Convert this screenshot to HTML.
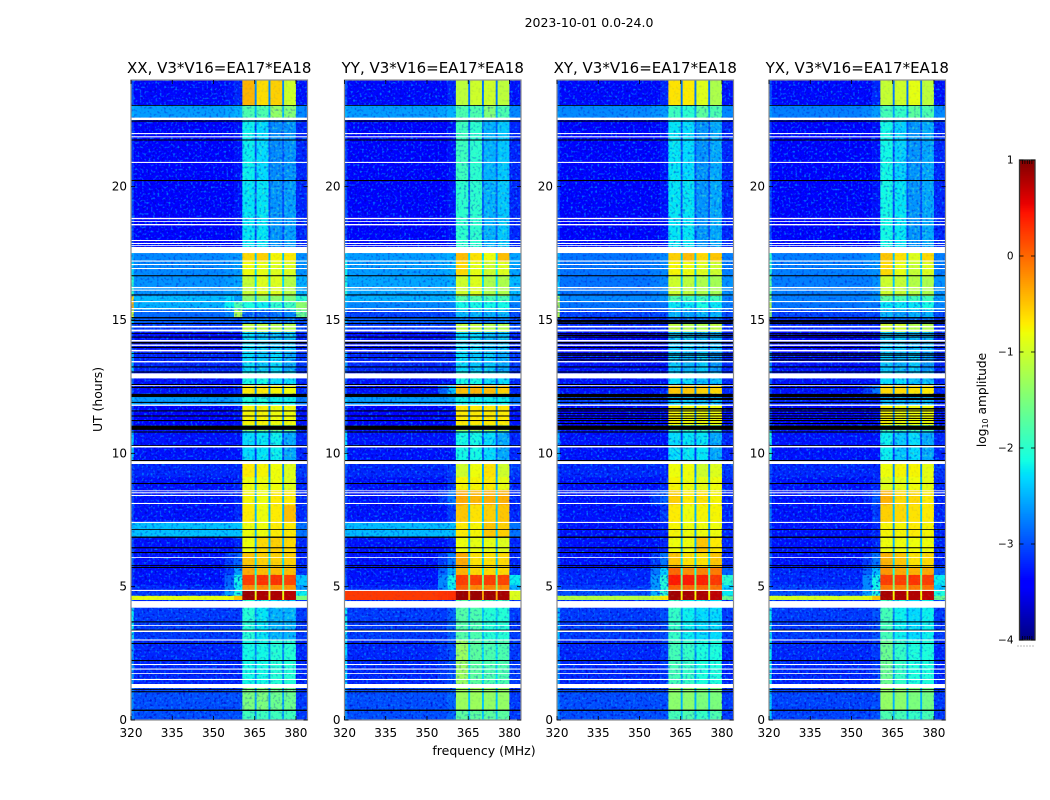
<!DOCTYPE html>
<html>
<head>
<meta charset="utf-8">
<title>Dynamic spectra 2023-10-01</title>
<style>
html,body{margin:0;padding:0;background:#fff;}
svg{display:block;}
text{font-family:"DejaVu Sans","Liberation Sans",sans-serif;fill:#000;}
</style>
</head>
<body>
<svg id="fig" xmlns="http://www.w3.org/2000/svg" width="1050" height="800" viewBox="0 0 1050 800">
<defs>
<filter id="speckDark" x="0" y="0" width="100%" height="100%" color-interpolation-filters="sRGB">
<feTurbulence type="fractalNoise" baseFrequency="0.42" numOctaves="1" seed="3"/>
<feColorMatrix type="matrix" values="0 0 0 0 0  0 0 0 0 0  0 0 0 0 0.78  3.6 0 0 0 -1.85"/>
</filter>
<filter id="speckLight" x="0" y="0" width="100%" height="100%" color-interpolation-filters="sRGB">
<feTurbulence type="fractalNoise" baseFrequency="0.45" numOctaves="1" seed="11"/>
<feColorMatrix type="matrix" values="0 0 0 0 0  0 0 0 0 0.55  0 0 0 0 1  0 3.8 0 0 -2.02"/>
</filter>
<filter id="speckGreen" x="0" y="0" width="100%" height="100%" color-interpolation-filters="sRGB">
<feTurbulence type="fractalNoise" baseFrequency="0.4" numOctaves="1" seed="7"/>
<feColorMatrix type="matrix" values="0 0 0 0 0.35  0 0 0 0 1  0 0 0 0 0.7  0 3.8 0 0 -1.95"/>
</filter>
</defs>
<text x="589" y="27" font-size="12.5" text-anchor="middle">2023-10-01 0.0-24.0</text>
<text x="484" y="755" font-size="12.5" text-anchor="middle">frequency (MHz)</text>
<text x="102" y="399.5" font-size="12.4" text-anchor="middle" transform="rotate(-90 102 399.5)">UT (hours)</text>
<text x="986" y="400" font-size="12.2" text-anchor="middle" transform="rotate(-90 986 400)">log<tspan font-size="8" dy="2">10</tspan><tspan dy="-2"> amplitude</tspan></text>
<g id="panels"></g>
<g id="colorbar"></g>
</svg>
<script>
// ---------- chart data ----------
const panelTitles = ["XX, V3*V16=EA17*EA18","YY, V3*V16=EA17*EA18","XY, V3*V16=EA17*EA18","YX, V3*V16=EA17*EA18"];
const xTicks = [320,335,350,365,380];
const yTicks = [0,5,10,15,20];
const colorTicks = [1,0,-1,-2,-3,-4];
// frequency channel groups (MHz): edge, background, rampA, rampB, bar1, gap, bar2, gap, bar3, gap, bar4, side
const freqEdges = [320,321,354,357.5,360.5,365,365.7,370,370.7,375,375.7,380,384.2];
// time band edges (hours UT), top to bottom
const bandEdges = [24,23.06,22.58,20.25,17.74,17.55,17.18,16.69,15.9,15.68,15.38,15.08,14.89,14.55,13.8,13.05,12.56,12.23,11.81,11.06,10.84,9.68,9.11,8.63,8.06,7.43,6.86,6.3,5.7,5.44,5.06,4.85,4.66,4.5,4.2,3,1.35,0.37,0];
// log10 amplitude per band: edge,bg,rampA,rampB,bar1,bar2,bar3,bar4,gap,side
const xxLevels = [
[-3,-3.35,-3.3,-3.2,-0.4,-0.62,-0.55,-1,-2.7,-3.3],
[-2.5,-2.6,-2.55,-2.5,-1.8,-1.8,-1.35,-1.45,-2.5,-2.7],
[-3.1,-3.4,-3.4,-3.3,-2.2,-2.3,-2.7,-2.65,-2.95,-3.2],
[-3,-3.4,-3.4,-3.3,-2.25,-2.25,-2.65,-2.6,-3,-3.2],
[-3,-3.4,-3.4,-3.3,-2.25,-2.25,-2.65,-2.6,-3,-3.2],
[-2.5,-2.7,-2.65,-2.6,-0.6,-0.55,-0.75,-0.7,-2.4,-2.65],
[-2.3,-2.7,-2.65,-2.6,-0.8,-0.85,-0.9,-0.9,-2.3,-2.65],
[-2,-2.65,-2.6,-2.55,-1.05,-0.9,-0.9,-1.15,-2.3,-2.5],
[-0.6,-2.45,-2.3,-2.6,-1.4,-1.4,-1.4,-1.5,-2.5,-2],
[-0.4,-2.5,-2.2,-1.8,-2.1,-2.2,-2,-1.9,-2.6,-1.4],
[-1,-2.85,-2.7,-1.2,-2.9,-2.9,-2.8,-2.7,-3.1,-1.6],
[-2.3,-2.9,-2.9,-3,-2.8,-2.8,-2.8,-2.8,-3.1,-3],
[-2.8,-3.1,-3.1,-3.1,-1.1,-1.1,-1.2,-1.2,-2.7,-3],
[-3.1,-3.3,-3.3,-3.3,-2.3,-2.4,-2.45,-2.45,-3,-3.2],
[-2.4,-3.2,-3.2,-3.2,-2.3,-2.4,-2.3,-2.55,-3,-3.1],
[-2.9,-3.3,-3.3,-3.3,-2.15,-2.15,-2.3,-2.3,-3,-3.2],
[-3,-3.3,-3.3,-3.2,-0.7,-0.7,-0.75,-0.8,-2.7,-3.2],
[-2.4,-2.6,-2.6,-2.55,-2.1,-2.1,-2.2,-2.2,-2.6,-2.75],
[-3,-3.4,-3.4,-3.3,-0.75,-0.75,-0.8,-0.8,-2.7,-3.3],
[-3,-3.3,-3.3,-3.2,-1.4,-1.4,-1.5,-1.5,-2.9,-3.2],
[-2.4,-3.3,-3.3,-3.3,-2.3,-2.25,-2.2,-2.55,-3.1,-3.2],
[-3,-3.2,-3.2,-3.2,-0.7,-0.75,-0.8,-0.9,-2.7,-3.1],
[-3,-3.3,-3.3,-3.2,-0.8,-0.8,-0.8,-0.9,-2.5,-3.2],
[-3,-3.3,-3.3,-3.2,-0.75,-0.8,-0.7,-0.7,-2.5,-3.2],
[-3,-3.3,-3.3,-3.2,-0.7,-0.8,-0.7,-0.45,-2.5,-3.2],
[-2.45,-2.42,-2.42,-2.4,-0.8,-0.8,-0.7,-0.7,-2.5,-2.8],
[-3,-3.3,-3.3,-3.2,-0.8,-0.6,-0.55,-0.6,-2.5,-3.2],
[-2.9,-3.3,-3.1,-2.9,-0.5,-0.55,-0.55,-0.55,-2.3,-3.2],
[-3.1,-3.3,-3.1,-2.6,-0.35,-0.45,-0.45,-0.45,-2.2,-3.1],
[-3.1,-3.3,-2.9,-2.15,0.22,0.28,0.28,0.18,-1.6,-2.4],
[-3.1,-3.2,-2.8,-2.2,-0.2,-0.2,-0.25,-0.25,-1.6,-2.6],
[-3.1,-3.1,-2.6,-2.1,0.88,0.8,0.8,0.75,-0.9,-2.2],
[-0.85,-0.85,-0.8,-0.5,0.88,0.8,0.8,0.75,-0.7,-1.5],
[-3,-3.2,-3.2,-3.1,-2,-2.2,-2.3,-2.4,-2.7,-3.1],
[-2.2,-3.1,-3.1,-3.1,-2.05,-2.25,-2.5,-2.5,-2.7,-3.1],
[-2.6,-3.2,-3.2,-3.2,-2.15,-2.15,-2.05,-2.05,-2.7,-3.2],
[-2.7,-3,-3,-3,-1.5,-1.5,-1.6,-1.6,-2.6,-3.1],
[-2.7,-3,-3,-3,-1.9,-1.9,-1.9,-1.9,-2.6,-3.1]
];
const yyLevels = [
[-3,-3.35,-3.35,-3.2,-1.1,-1,-1,-1.1,-2.8,-3.3],
[-2.5,-2.6,-2.55,-2.5,-1.8,-1.8,-1.45,-1.8,-2.5,-2.7],
[-3.1,-3.4,-3.4,-3.3,-1.9,-2,-2.5,-2.4,-2.9,-3.2],
[-3,-3.4,-3.4,-3.3,-2,-2,-2.5,-2.4,-2.9,-3.2],
[-3,-3.4,-3.4,-3.3,-2,-2,-2.5,-2.4,-2.9,-3.2],
[-2.3,-2.6,-2.55,-2.5,-0.45,-0.65,-0.8,-0.45,-2.3,-2.55],
[-2.2,-2.6,-2.55,-2.5,-0.6,-0.85,-1,-0.9,-2.2,-2.55],
[-2.1,-2.55,-2.55,-2.5,-1,-0.9,-1.2,-1.2,-2.3,-2.45],
[-2.3,-2.5,-2.5,-2.45,-1.75,-1.75,-1.85,-1.85,-2.5,-2.55],
[-2.5,-2.7,-2.7,-2.7,-2.15,-2.15,-2.15,-2.15,-2.7,-2.75],
[-2.8,-3.05,-3.05,-3,-2.5,-2.5,-2.5,-2.5,-3,-3],
[-2.5,-2.9,-2.9,-2.9,-2.8,-2.8,-2.8,-2.8,-3.1,-3],
[-2.8,-3.1,-3.1,-3.1,-1.1,-1.1,-1.2,-1.2,-2.7,-3],
[-3.1,-3.3,-3.3,-3.2,-2.3,-2.3,-2.45,-2.45,-3,-3.2],
[-2.6,-3.2,-3.2,-3.2,-2.3,-2.4,-2.4,-2.55,-3,-3.1],
[-2.9,-3.3,-3.3,-3.3,-2.15,-2.15,-2.3,-2.3,-3,-3.2],
[-3,-3.3,-2.9,-2.4,-0.45,-0.4,-0.45,-0.55,-2.5,-3.2],
[-2.4,-2.6,-2.6,-2.55,-2.2,-2.2,-2.2,-2.2,-2.6,-2.75],
[-3,-3.4,-3.4,-3.3,-0.7,-0.7,-0.7,-0.7,-2.7,-3.3],
[-3,-3.3,-3.3,-3.2,-1.2,-1.2,-1.2,-1.2,-2.9,-3.2],
[-2.3,-3.3,-3.3,-3.3,-2.15,-2.15,-2.3,-2.55,-3,-3.2],
[-3,-3.2,-3.2,-3.1,-1,-0.8,-0.65,-1,-2.6,-3.1],
[-3,-3.3,-3.3,-3.1,-0.75,-0.75,-0.7,-0.85,-2.5,-3.2],
[-3,-3.3,-3.1,-2.8,-0.35,-0.42,-0.38,-0.38,-2.3,-3.2],
[-3,-3.3,-3.3,-3.1,-0.5,-0.65,-0.55,-0.5,-2.4,-3.2],
[-2.45,-2.45,-2.45,-2.42,-0.7,-0.75,-0.5,-0.55,-2.4,-2.8],
[-3,-3.3,-3.3,-3.2,-0.8,-0.85,-0.85,-0.9,-2.5,-3.2],
[-2.9,-3.3,-3.1,-2.8,-0.35,-0.65,-0.65,-0.6,-2.4,-3.2],
[-3,-3.3,-2.9,-2.5,-0.4,-0.6,-0.6,-0.6,-2.2,-3.1],
[-3,-3.3,-2.7,-2.15,0.22,0.22,0.22,0.18,-1.5,-2.2],
[-3,-3.2,-2.7,-2.2,0.05,-0.15,-0.15,-0.2,-1.4,-2.5],
[0.25,0.25,0.28,0.3,0.88,0.88,0.85,0.82,-0.35,-0.9],
[0.25,0.25,0.28,0.3,0.88,0.88,0.85,0.82,-0.35,-0.9],
[-3,-3.2,-3.2,-3.1,-1.7,-1.7,-1.85,-1.85,-2.5,-3.1],
[-2.2,-3.1,-3.1,-2.9,-1.75,-1.8,-2.05,-2.05,-2.4,-3.1],
[-2.3,-3.2,-3.1,-3,-1.3,-1.7,-1.8,-1.8,-2.3,-3.1],
[-2.7,-3,-3,-2.9,-1.3,-1.3,-1.35,-1.35,-2.4,-3.1],
[-2.7,-3,-3,-2.9,-1.7,-1.7,-1.7,-1.7,-2.4,-3.1]
];
const xyLevels = [
[-3,-3.35,-3.35,-3.2,-0.65,-0.7,-0.9,-1.2,-2.8,-3.3],
[-2.6,-2.7,-2.65,-2.6,-1.9,-2,-1.7,-1.8,-2.6,-2.7],
[-3.1,-3.4,-3.4,-3.3,-2.25,-2.3,-2.65,-2.55,-3,-3.2],
[-3,-3.4,-3.4,-3.3,-2.25,-2.25,-2.65,-2.55,-3,-3.2],
[-3,-3.4,-3.4,-3.3,-2.25,-2.25,-2.65,-2.55,-3,-3.2],
[-2.5,-2.8,-2.75,-2.7,-0.55,-0.45,-0.6,-0.5,-2.4,-2.75],
[-2.5,-2.8,-2.75,-2.7,-0.75,-0.8,-0.9,-1,-2.4,-2.75],
[-2.4,-2.8,-2.75,-2.7,-1,-1.1,-1.2,-1.25,-2.4,-2.65],
[-1.2,-2.7,-2.7,-2.65,-1.8,-1.9,-1.9,-1.9,-2.6,-2.75],
[-1.1,-2.8,-2.8,-2.8,-2.25,-2.25,-2.15,-2.25,-2.7,-2.75],
[-1.2,-3.05,-3.05,-3.05,-2.5,-2.6,-2.5,-2.5,-3,-3],
[-3,-3.2,-3.2,-3.2,-2.85,-2.85,-2.85,-2.85,-3.2,-3.2],
[-3,-3.2,-3.2,-3.2,-1.1,-1.2,-1.2,-1.1,-2.8,-3.2],
[-3.1,-3.35,-3.35,-3.3,-2.4,-2.4,-2.5,-2.5,-3.1,-3.2],
[-3,-3.3,-3.3,-3.3,-2.4,-2.5,-2.4,-2.65,-3.1,-3.2],
[-3,-3.3,-3.3,-3.3,-2.3,-2.3,-2.45,-2.45,-3.1,-3.2],
[-3,-3.3,-3.3,-3.2,-0.5,-0.5,-0.55,-0.6,-2.7,-3.2],
[-2.5,-3.05,-3.05,-3.05,-2.4,-2.4,-2.5,-2.5,-3,-3.1],
[-3,-3.4,-3.4,-3.3,-0.75,-0.8,-0.8,-0.8,-2.7,-3.3],
[-3,-3.3,-3.3,-3.2,-1.8,-1.8,-1.8,-1.8,-2.9,-3.2],
[-2.5,-3.3,-3.3,-3.3,-2.3,-2.25,-2.25,-2.55,-3.1,-3.2],
[-3,-3.2,-3.2,-3.2,-0.8,-0.8,-1,-0.9,-2.7,-3.1],
[-3,-3.3,-3.3,-3.2,-0.75,-0.8,-0.85,-0.8,-2.5,-3.2],
[-3,-3.3,-3.1,-2.9,-0.55,-0.7,-0.65,-0.75,-2.5,-3.2],
[-3,-3.3,-3.3,-3.1,-0.7,-0.8,-0.75,-0.75,-2.5,-3.2],
[-3,-3.3,-3.3,-3.2,-0.75,-0.8,-0.8,-0.8,-2.6,-3.2],
[-3,-3.3,-3.3,-3.2,-0.8,-0.8,-0.5,-0.7,-2.5,-3.2],
[-2.9,-3.3,-3.1,-2.8,-0.5,-0.65,-0.65,-0.5,-2.3,-3.2],
[-3,-3.2,-2.8,-2.35,0,-0.2,-0.15,-0.1,-2.1,-2.9],
[-3,-3.2,-2.6,-2.05,0.42,0.42,0.38,0.25,-1.5,-2],
[-3,-3.1,-2.6,-2.05,0.05,0,0,-0.05,-1.4,-2.3],
[-3,-3,-2.5,-2,0.85,0.82,0.8,0.72,-0.8,-2.2],
[-1.1,-1.15,-1,-0.7,0.85,0.82,0.8,0.72,-0.7,-1.6],
[-3,-3.2,-3.2,-3.1,-1.95,-2.2,-2.2,-2.3,-2.7,-3.1],
[-2.4,-3.1,-3.1,-3,-1.95,-2.2,-2.3,-2.3,-2.7,-3.1],
[-2.6,-3.2,-3.2,-3.1,-1.85,-1.95,-2.1,-2.1,-2.6,-3.2],
[-2.7,-3,-3,-3,-1.4,-1.4,-1.5,-1.5,-2.5,-3.1],
[-2.7,-3,-3,-3,-1.85,-1.8,-1.95,-1.8,-2.5,-3.1]
];
const yxLevels = [
[-3,-3.35,-3.35,-3.2,-1.05,-1,-0.85,-1.1,-2.8,-3.3],
[-2.6,-2.75,-2.7,-2.6,-1.85,-1.95,-1.7,-1.8,-2.6,-2.7],
[-3.1,-3.4,-3.4,-3.3,-2.15,-2.35,-2.65,-2.55,-3,-3.2],
[-3,-3.4,-3.4,-3.3,-2.15,-2.25,-2.65,-2.55,-3,-3.2],
[-3,-3.4,-3.4,-3.3,-2.15,-2.25,-2.65,-2.55,-3,-3.2],
[-2,-2.75,-2.7,-2.65,-0.5,-0.65,-0.9,-0.6,-2.4,-2.75],
[-2,-2.75,-2.7,-2.65,-0.6,-0.85,-1.05,-0.9,-2.4,-2.75],
[-1.7,-2.75,-2.75,-2.65,-1,-1.05,-1.15,-1.2,-2.4,-2.65],
[-1.5,-2.75,-2.7,-2.65,-1.7,-1.8,-1.9,-1.9,-2.6,-2.6],
[-1.2,-2.8,-2.75,-2.8,-2.25,-2.25,-2.25,-2.15,-2.7,-2.7],
[-1.4,-3.05,-3,-3.05,-2.5,-2.6,-2.5,-2.5,-3,-3],
[-3,-3.2,-3.2,-3.2,-2.85,-2.85,-2.85,-2.85,-3.2,-3.2],
[-3,-3.2,-3.2,-3.2,-1,-1,-1.2,-1.2,-2.8,-3.2],
[-3.1,-3.35,-3.35,-3.3,-2.4,-2.4,-2.5,-2.5,-3.1,-3.2],
[-2.6,-3.3,-3.3,-3.3,-2.4,-2.5,-2.4,-2.65,-3.1,-3.2],
[-2.9,-3.3,-3.3,-3.3,-2.3,-2.3,-2.45,-2.45,-3.1,-3.2],
[-3,-3.3,-3.1,-2.8,-0.6,-0.6,-0.65,-0.7,-2.7,-3.2],
[-2.9,-3.2,-3.2,-3.2,-2.5,-2.5,-2.5,-2.5,-3,-3.2],
[-3,-3.4,-3.4,-3.3,-0.75,-0.8,-0.8,-0.8,-2.7,-3.3],
[-3,-3.3,-3.3,-3.2,-1.7,-1.7,-1.8,-1.8,-2.9,-3.2],
[-2.1,-3.3,-3.3,-3.3,-2.2,-2.4,-2.3,-2.55,-3.1,-3.2],
[-3,-3.2,-3.2,-3.2,-0.8,-0.75,-0.75,-0.85,-2.7,-3.1],
[-3,-3.3,-3.3,-3.2,-0.9,-0.85,-0.8,-0.85,-2.5,-3.2],
[-2.8,-3.3,-3.2,-3,-0.4,-0.6,-0.6,-0.7,-2.4,-3.2],
[-2.8,-3.3,-3.3,-3.1,-0.55,-0.6,-0.65,-0.7,-2.4,-3.2],
[-3,-3.3,-3.3,-3.2,-0.75,-0.75,-0.7,-0.75,-2.6,-3.2],
[-3,-3.3,-3.3,-3.2,-0.8,-0.8,-0.8,-0.8,-2.5,-3.2],
[-2.9,-3.3,-3.1,-2.8,-0.4,-0.5,-0.65,-0.6,-2.3,-3.2],
[-3,-3.2,-2.9,-2.45,-0.25,-0.35,-0.4,-0.35,-2.1,-2.9],
[-3,-3.2,-2.7,-2.15,0.22,0.22,0.28,0.22,-1.5,-2.2],
[-3,-3.1,-2.7,-2.15,-0.1,-0.15,-0.1,-0.05,-1.4,-2.4],
[-3,-3,-2.6,-2.1,0.82,0.8,0.78,0.72,-0.8,-2.1],
[-0.9,-0.95,-0.85,-0.5,0.82,0.8,0.78,0.72,-0.7,-1.6],
[-3,-3.2,-3.2,-3.1,-1.9,-2.15,-2.3,-2.2,-2.7,-3.1],
[-2.2,-3.1,-3.1,-3,-1.85,-2.2,-2.3,-2.2,-2.7,-3.1],
[-2.2,-3.2,-3.2,-3.1,-1.6,-1.95,-2.1,-2.1,-2.6,-3.2],
[-2.4,-3.05,-3.05,-3,-1.35,-1.4,-1.5,-1.55,-2.5,-3.1],
[-2.4,-3.05,-3.05,-3,-1.8,-1.85,-1.95,-1.85,-2.5,-3.1]
];
const panelLevels = [xxLevels,yyLevels,xyLevels,yxLevels];
// flagged (missing) time ranges in hours: [start,end]
const flaggedWhite = [[22.59,22.5],[22.01,21.97],[21.89,21.85],[20.93,20.89],[18.83,18.78],[18.71,18.68],[18.6,18.55],[18,17.96],[17.89,17.85],[17.81,17.78],[17.74,17.51],[17.23,17.19],[17.1,17.06],[16.95,16.91],[16.24,16.19],[16.14,16.1],[15.71,15.67],[15.45,15.4],[15.34,15.3],[14.78,14.72],[14.64,14.57],[14.25,14.19],[14.08,14.03],[13.88,13.82],[13.46,13.41],[13,12.81],[12.56,12.53],[11.83,11.78],[10.28,10.22],[9.71,9.6],[8.61,8.58],[8.54,8.5],[8.44,8.4],[8.14,8.1],[7.43,7.39],[6.11,6.08],[4.88,4.84],[4.46,4.21],[3.56,3.53],[3.36,3.3],[3.02,2.98],[2.1,2.06],[1.93,1.89],[1.76,1.73],[1.54,1.5],[1.35,1.2]];
// zero-amplitude time ranges in hours: [start,end]
const flaggedBlack = [[23.06,23.03],[22.48,22.44],[21.77,21.73],[20.25,20.21],[16.68,16.64],[15.96,15.92],[15.11,15.06],[15,14.96],[14.89,14.85],[14.51,14.48],[14.38,14.34],[14.18,14.12],[13.99,13.95],[13.76,13.73],[13.61,13.58],[13.26,13.22],[13.07,13.03],[12.6,12.56],[12.49,12.45],[12.23,12.11],[11.93,11.89],[11.61,11.57],[11.42,11.38],[11.25,11.21],[11.04,10.88],[10.82,10.78],[10.31,10.28],[9.75,9.71],[8.89,8.85],[7.16,7.13],[6.88,6.83],[6.48,6.44],[6.3,6.26],[5.81,5.78],[5.74,5.7],[3.7,3.66],[3.39,3.36],[2.89,2.85],[2.25,2.21],[1.16,1.13],[1.08,1.04],[0.39,0.34]];
// extra zero-amplitude ranges on the cross-hand panels
const flaggedBlackCross = [[14.96,14.9],[14.45,14.4],[13.71,13.66],[13.52,13.48],[12.08,12],[11.7,11.64],[11.51,11.48],[11.33,11.29],[11.14,11.1]];
const crossPanels = ["XY","YX"];

// ---------- layout ----------
const NS = "http://www.w3.org/2000/svg";
const panelLeft = [131,344.5,557,769];
const panelWidth = 176.5;
const plotTop = 80, plotBottom = 720;
const freqMin = 320, freqMax = 384.2, timeMin = 0, timeMax = 24;
const barStart = 360.5, barEnd = 380;
const cbarLeft = 1019.5, cbarRight = 1035, cbarTop = 160, cbarBottom = 640;
const valueMin = -4, valueMax = 1;

function xScale(panel, f){ return panelLeft[panel] + (f - freqMin) / (freqMax - freqMin) * panelWidth; }
function yScale(t){ return plotBottom - (t - timeMin) / (timeMax - timeMin) * (plotBottom - plotTop); }
function cbarScale(v){ return cbarBottom - (v - valueMin) / (valueMax - valueMin) * (cbarBottom - cbarTop); }

function lerpStops(stops, u){
  for (let i = 1; i < stops.length; i++){
    if (u <= stops[i][0]){
      const a = stops[i-1], b = stops[i];
      return a[1] + (b[1]-a[1]) * (u-a[0]) / (b[0]-a[0]);
    }
  }
  return stops[stops.length-1][1];
}
const jetR = [[0,0],[0.35,0],[0.66,1],[0.89,1],[1,0.5]];
const jetG = [[0,0],[0.125,0],[0.375,1],[0.64,1],[0.91,0],[1,0]];
const jetB = [[0,0.5],[0.11,1],[0.34,1],[0.65,0],[1,0]];
function colorScale(v){
  const u = Math.max(0, Math.min(1, (v - valueMin) / (valueMax - valueMin)));
  return "rgb(" + Math.round(255*lerpStops(jetR,u)) + "," + Math.round(255*lerpStops(jetG,u)) + "," + Math.round(255*lerpStops(jetB,u)) + ")";
}
function speckleOpacity(level){
  if (level < -2.9) return 0.85;
  if (level < -2.2) return 0.45;
  if (level < -1.5) return 0.35;
  return 0.08;
}
function svgEl(tag, attrs, parent){
  const e = document.createElementNS(NS, tag);
  for (const k in attrs) e.setAttribute(k, attrs[k]);
  parent.appendChild(e);
  return e;
}
function minusLabel(v){ return v < 0 ? "\u2212" + Math.abs(v) : String(v); }

// maps each of the 12 frequency groups to a column of a level row
const channelColumn = [0,1,2,3,4,8,5,8,6,8,7,9];

const panelsGroup = document.getElementById("panels");
panelTitles.forEach(function(title, p){
  const g = svgEl("g", {}, panelsGroup);
  
  

  const levels = panelLevels[p];
  levels.forEach(function(row, b){
    const y0 = yScale(bandEdges[b]), y1 = yScale(bandEdges[b+1]);
    channelColumn.forEach(function(col, c){
      const x0 = xScale(p, freqEdges[c]), x1 = xScale(p, freqEdges[c+1]);
      const cell = svgEl("rect", {x:x0, y:y0, width:x1-x0+0.3, height:y1-y0+0.3, fill:colorScale(row[col])}, g);
      
      
    });
  });

  // measurement speckle texture, weaker on bright bands
  levels.forEach(function(row, b){
    const y0 = yScale(bandEdges[b]), y1 = yScale(bandEdges[b+1]);
    const barMean = (row[4] + row[5] + row[6] + row[7]) / 4;
    const spans = [[freqMin, barStart, row[1], "speckLight"], [barStart, barEnd, barMean, "speckGreen"], [barEnd, freqMax, row[9], "speckLight"]];
    spans.forEach(function(s){
      const x0 = xScale(p, s[0]), x1 = xScale(p, s[1]);
      const o = speckleOpacity(s[2]);
      const dark = svgEl("rect", {x:x0, y:y0, width:x1-x0, height:y1-y0, filter:"url(#speckDark)", opacity:o}, g);
      
      
      const light = svgEl("rect", {x:x0, y:y0, width:x1-x0, height:y1-y0, filter:"url(#" + s[3] + ")", opacity:o}, g);
      
      
    });
  });

  const left = xScale(p,freqMin), right = xScale(p,freqMax);
  flaggedWhite.forEach(function(r){
    const line = svgEl("rect", {x:left, y:yScale(r[0]), width:right-left, height:yScale(r[1])-yScale(r[0]), fill:"#fff"}, g);
    
    
  });
  let blacks = flaggedBlack;
  if (crossPanels.indexOf(title.slice(0,2)) >= 0) blacks = flaggedBlack.concat(flaggedBlackCross);
  blacks.forEach(function(r){
    const line = svgEl("rect", {x:left, y:yScale(r[0]), width:right-left, height:yScale(r[1])-yScale(r[0]), fill:"#000"}, g);
    
    
  });

  const frame = svgEl("rect", {x:left, y:plotTop, width:right-left, height:plotBottom-plotTop, fill:"none", stroke:"#8c8c8c", "stroke-width":1.2}, g);
  
  

  xTicks.forEach(function(f){
    const x = xScale(p,f);
    const tb = svgEl("line", {x1:x, x2:x, y1:plotBottom, y2:plotBottom-4, stroke:"#000", "stroke-width":0.8}, g);
    
    
    const tt = svgEl("line", {x1:x, x2:x, y1:plotTop, y2:plotTop+4, stroke:"#000", "stroke-width":0.8}, g);
    
    
    const lab = svgEl("text", {x:x, y:plotBottom+17, "font-size":12, "text-anchor":"middle"}, g);
    lab.textContent = String(f);
    
    
  });
  yTicks.forEach(function(t){
    const y = yScale(t);
    const tl = svgEl("line", {x1:left, x2:left+4, y1:y, y2:y, stroke:"#000", "stroke-width":0.8}, g);
    
    
    const tr = svgEl("line", {x1:right, x2:right-4, y1:y, y2:y, stroke:"#000", "stroke-width":0.8}, g);
    
    
    const lab = svgEl("text", {x:left-4, y:y+4, "font-size":12, "text-anchor":"end"}, g);
    lab.textContent = String(t);
    
    
  });

  const ttl = svgEl("text", {x:(left+right)/2, y:73, "font-size":15, "text-anchor":"middle"}, g);
  ttl.textContent = title;
  
  
});

// ---------- colorbar ----------
const cb = document.getElementById("colorbar");
const cbSteps = 240;
for (let i = 0; i < cbSteps; i++){
  const v0 = valueMin + (valueMax - valueMin) * i / cbSteps;
  const v1 = valueMin + (valueMax - valueMin) * (i + 1) / cbSteps;
  const seg = svgEl("rect", {x:cbarLeft, y:cbarScale(v1), width:cbarRight-cbarLeft, height:cbarScale(v0)-cbarScale(v1)+0.3, fill:colorScale((v0+v1)/2)}, cb);
  
  
}
const cbFrame = svgEl("rect", {x:cbarLeft, y:cbarTop, width:cbarRight-cbarLeft, height:cbarBottom-cbarTop, fill:"none", stroke:"#333", "stroke-width":1.3}, cb);


colorTicks.forEach(function(v){
  const y = cbarScale(v);
  const a = svgEl("line", {x1:cbarLeft, x2:cbarLeft+4, y1:y, y2:y, stroke:"#000", "stroke-width":0.8}, cb);
  
  
  const b = svgEl("line", {x1:cbarRight, x2:cbarRight-4, y1:y, y2:y, stroke:"#000", "stroke-width":0.8}, cb);
  
  
  const lab = svgEl("text", {x:cbarLeft-6, y:y+3.5, "font-size":10.5, "text-anchor":"end"}, cb);
  lab.textContent = minusLabel(v);
  
  
});
const hatchTicks = [0.2,0.35,0.5,0.65,0.8];
hatchTicks.forEach(function(u){
  const x = cbarLeft + (cbarRight-cbarLeft)*u;
  const top = svgEl("line", {x1:x, x2:x, y1:cbarTop, y2:cbarTop+4, stroke:"#000", "stroke-width":0.7}, cb);
  
  
  const bot = svgEl("line", {x1:x, x2:x, y1:cbarBottom, y2:cbarBottom-4, stroke:"#000", "stroke-width":0.7}, cb);
  
  
});
const dots = svgEl("line", {x1:1017.5, x2:1035, y1:646, y2:646, stroke:"#777", "stroke-width":1, "stroke-dasharray":"1 2"}, cb);


</script>
</body>
</html>
